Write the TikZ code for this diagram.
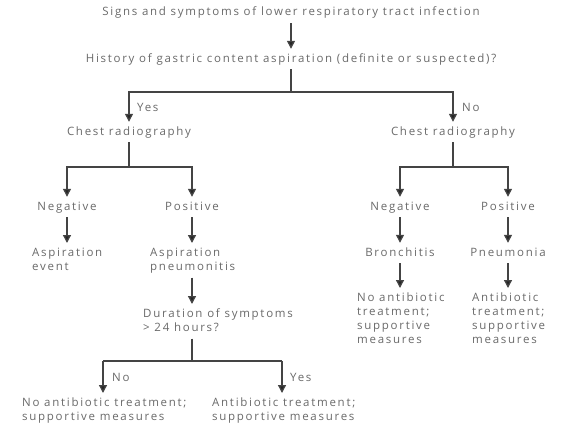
\documentclass[tikz,border=0pt]{standalone}
\usepackage{fontspec}
\setmainfont{Open Sans}[LetterSpace=15]
\usetikzlibrary{arrows.meta}
\definecolor{txt}{HTML}{6A6A6A}
\definecolor{lnc}{HTML}{444444}
\newcommand\ta{\rule{0pt}{8.5pt}}
\newcommand\tz{\rule[-2.5pt]{0pt}{2.5pt}}
\begin{document}
\begin{tikzpicture}[x=1pt,y=-1pt,
  box/.style={inner xsep=0pt,inner ysep=4.5pt,text=txt,font=\fontsize{11.5}{14}\selectfont},
  one/.style={box,text height=8.5pt,text depth=2.5pt},
  multi/.style={box,align=left,anchor=north west},
  lbl/.style={text=txt,font=\fontsize{11.5}{14}\selectfont,anchor=west,inner sep=0pt},
  ln/.style={draw=lnc,line width=1.3pt},
  arr/.style={ln,-{Triangle[width=8pt,length=8pt,fill=black!85]}}]
\useasboundingbox[fill=white] (0,0) rectangle (565,431);
% top
\node[one] (sig) at (291,13) {Signs and symptoms of lower respiratory tract infection};
\node[one] (hist) at (291,59) {History of gastric content aspiration (definite or suspected)?};
\coordinate (j1) at (291,92);
\node[one] (chL) at (129,132) {Chest radiography};
\node[one] (chR) at (453,132) {Chest radiography};
\node[lbl] (yes1) at (137,107) {Yes};
\node[lbl] (no1) at (462,107) {No};
\draw[arr] (sig) -- (hist);
\draw[ln] (hist) -- (j1);
\draw[arr] (j1) -| (chL);
\draw[arr] (j1) -| (chR);
% left branch
\coordinate (j2) at (129,167);
\node[one] (negL) at (67,207) {Negative};
\node[one] (posL) at (192,207) {Positive};
\draw[ln] (chL) -- (j2);
\draw[arr] (j2) -| (negL);
\draw[arr] (j2) -| (posL);
\node[multi] (aspE) at (32,243) {\ta Aspiration\\event\tz};
\node[multi] (aspP) at (150,243) {\ta Aspiration\\pneumonitis\tz};
\draw[arr] (negL) -- (negL |- aspE.north);
\draw[arr] (posL) -- (posL |- aspP.north);
\node[multi] (dur) at (143,304) {\ta Duration of symptoms\\> 24 hours?\tz};
\draw[arr] (posL |- aspP.south) -- (posL |- dur.north);
\coordinate (j3) at (192,361);
\coordinate (c3L) at (103,361);
\coordinate (c3R) at (282,361);
\draw[ln] (posL |- dur.south) -- (j3);
\draw[ln] (c3L) -- (c3R);
\node[multi] (noabx) at (22,393) {\ta No antibiotic treatment;\\supportive measures\tz};
\node[multi] (abx) at (212,393) {\ta Antibiotic treatment;\\supportive measures\tz};
\node[lbl] (no2) at (112,377) {No};
\node[lbl] (yes2) at (290,377) {Yes};
\draw[arr] (c3L) -- (c3L |- noabx.north);
\draw[arr] (c3R) -- (c3R |- abx.north);
% right branch
\coordinate (j4) at (453,167);
\node[one] (negR) at (400,207) {Negative};
\node[one] (posR) at (508,207) {Positive};
\draw[ln] (chR) -- (j4);
\draw[arr] (j4) -| (negR);
\draw[arr] (j4) -| (posR);
\node[one] (bron) at (400,253) {Bronchitis};
\node[one] (pneu) at (508,253) {Pneumonia};
\draw[arr] (negR) -- (bron);
\draw[arr] (posR) -- (pneu);
\node[multi] (noabxR) at (357,288) {\ta No antibiotic\\treatment;\\supportive\\measures\tz};
\node[multi] (abxR) at (472,288) {\ta Antibiotic\\treatment;\\supportive\\measures\tz};
\draw[arr] (bron) -- (bron |- noabxR.north);
\draw[arr] (pneu) -- (pneu |- abxR.north);
\end{tikzpicture}
\end{document}
